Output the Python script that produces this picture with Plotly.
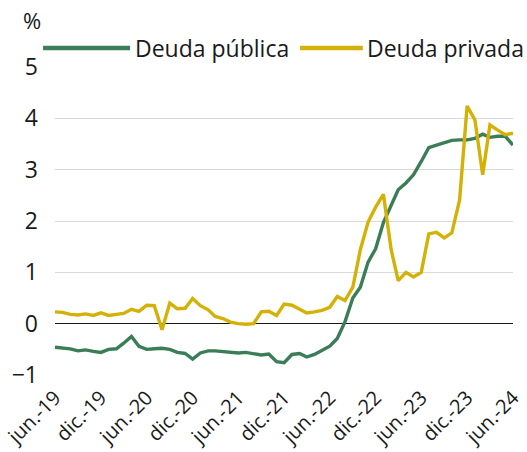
import plotly.graph_objects as go
import pandas as pd

dates = pd.date_range("2019-06-01", "2024-06-01", freq="MS")

deuda_publica = [
    -0.46, -0.47, -0.49, -0.53, -0.51, -0.54, -0.56, -0.50, -0.49, -0.38,
    -0.25, -0.44, -0.50, -0.49, -0.48, -0.50, -0.56, -0.58, -0.69, -0.57,
    -0.53, -0.53, -0.54, -0.56, -0.57, -0.56, -0.58, -0.61, -0.59, -0.74,
    -0.76, -0.60, -0.58, -0.65, -0.60, -0.53, -0.44, -0.29, 0.04, 0.50,
    0.71, 1.20, 1.46, 1.97, 2.30, 2.61, 2.74, 2.90, 3.16, 3.43,
    3.48, 3.53, 3.57, 3.58, 3.58, 3.61, 3.69, 3.63, 3.65, 3.65,
    3.48,
]

deuda_privada = [
    0.23, 0.22, 0.18, 0.17, 0.19, 0.16, 0.21, 0.16, 0.18, 0.20,
    0.28, 0.24, 0.36, 0.35, -0.12, 0.40, 0.29, 0.30, 0.49, 0.35,
    0.27, 0.14, 0.10, 0.03, 0.00, -0.01, 0.00, 0.23, 0.24, 0.16,
    0.38, 0.36, 0.28, 0.21, 0.23, 0.26, 0.32, 0.53, 0.45, 0.71,
    1.44, 1.98, 2.27, 2.52, 1.44, 0.84, 1.00, 0.91, 1.00, 1.75,
    1.78, 1.67, 1.77, 2.41, 4.24, 3.97, 2.90, 3.87, 3.77, 3.68,
    3.71,
]

tick_dates = pd.date_range("2019-06-01", "2024-06-01", freq="6MS")
tick_labels = ["jun.-19", "dic.-19", "jun.-20", "dic.-20", "jun.-21", "dic.-21",
               "jun.-22", "dic.-22", "jun.-23", "dic.-23", "jun.-24"]

y_ticks = [-1, 0, 1, 2, 3, 4, 5]

GREEN = "#3b7d57"
YELLOW = "#d4b106"
FONT = "Open Sans"
TXT = "#1a1a1a"

fig = go.Figure()
fig.add_trace(go.Scatter(x=dates, y=deuda_publica, mode="lines", name="Deuda pública",
                         line=dict(color=GREEN, width=3.4), showlegend=False))
fig.add_trace(go.Scatter(x=dates, y=deuda_privada, mode="lines", name="Deuda privada",
                         line=dict(color=YELLOW, width=3.4), showlegend=False))

# manual legend (paper coords: x=(px-55)/458, y=(375-py)/308)
LEG_Y = 1.062
def legend_item(x0, x1, xt, color, text):
    fig.add_shape(type="line", xref="paper", yref="paper", x0=x0, x1=x1, y0=LEG_Y, y1=LEG_Y,
                  line=dict(color=color, width=4.5))
    fig.add_annotation(xref="paper", yref="paper", x=xt, y=LEG_Y, text=text, showarrow=False,
                       xanchor="left", yanchor="middle", borderpad=0,
                       font=dict(family=FONT, size=23, color=TXT))

legend_item(-0.026, 0.164, 0.172, GREEN, "Deuda pública")
legend_item(0.535, 0.672, 0.680, YELLOW, "Deuda privada")

fig.add_annotation(xref="paper", yref="paper", x=-0.050, y=1.153, text="%", showarrow=False,
                   xanchor="center", yanchor="middle", borderpad=0,
                   font=dict(family=FONT, size=22, color=TXT))

fig.update_layout(
    width=527, height=452,
    margin=dict(l=55, r=14, t=67, b=77, autoexpand=False),
    paper_bgcolor="white", plot_bgcolor="white",
    font=dict(family=FONT, color=TXT),
    showlegend=False,
)
fig.update_xaxes(
    range=[dates[0], dates[-1]], automargin=False,
    tickvals=tick_dates, ticktext=tick_labels, tickangle=-45,
    showgrid=False, zeroline=False, showline=False, ticks="",
    tickfont=dict(family=FONT, size=20, color=TXT),
    ticklabelstandoff=6,
)
fig.update_yaxes(
    range=[-1, 5], tickvals=y_ticks, automargin=False,
    showgrid=True, gridcolor="#d9d9d9", gridwidth=1,
    zeroline=True, zerolinecolor=TXT, zerolinewidth=1.2,
    showline=False, ticks="",
    tickfont=dict(family=FONT, size=23, color=TXT),
    ticklabelstandoff=16,
)

fig.write_html("out.html", config={"displayModeBar": False},
               post_script="document.body.style.margin='0';document.body.style.padding='0';")
